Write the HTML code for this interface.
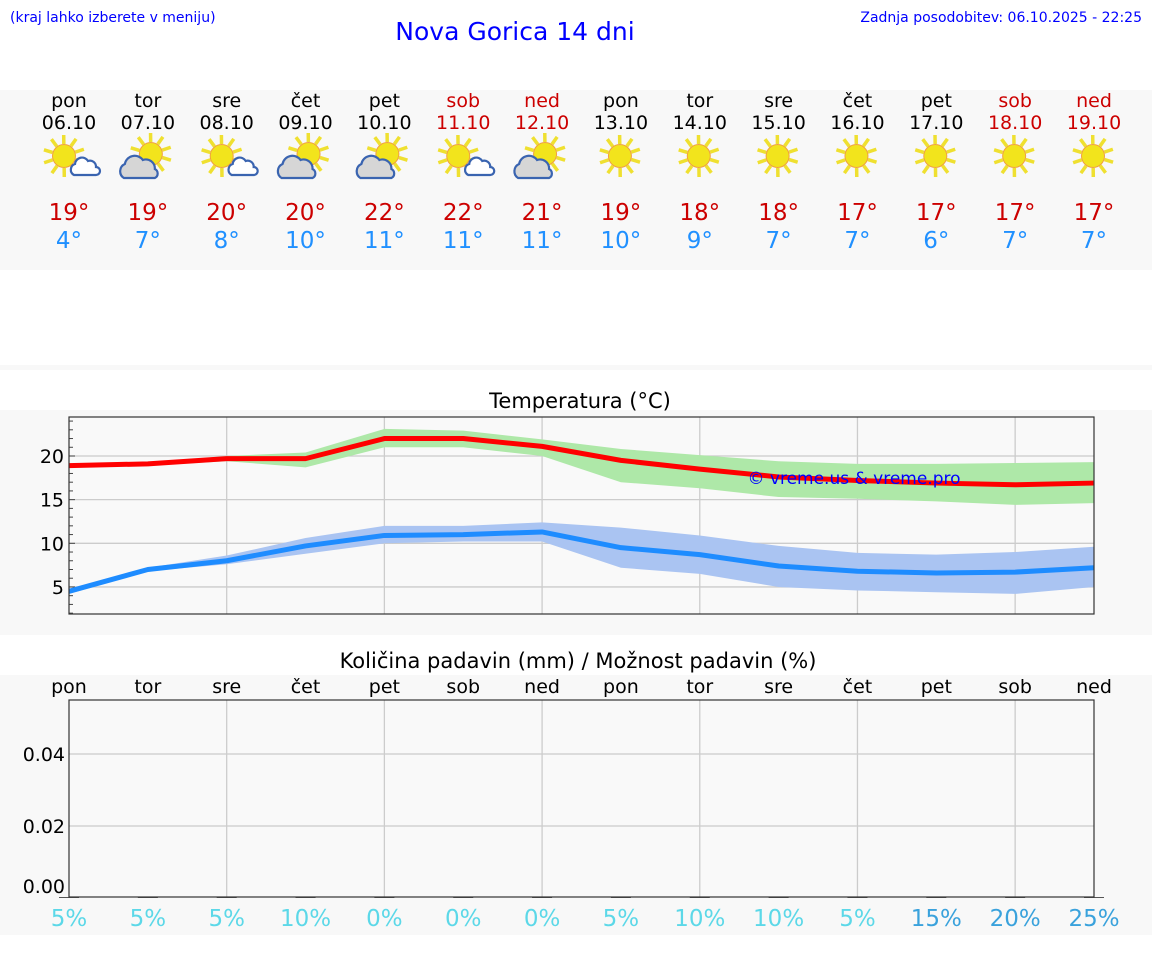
<!DOCTYPE html>
<html><head><meta charset="utf-8"><style>
body{margin:0;background:#fff;width:1152px;height:975px;overflow:hidden;font-family:"DejaVu Sans","Liberation Sans",sans-serif}
svg text{font-family:"DejaVu Sans","Liberation Sans",sans-serif}
</style></head><body>
<svg id="s" width="1152" height="975" xmlns="http://www.w3.org/2000/svg">
<rect x="0" y="90" width="1152" height="180" fill="#f8f8f8"/>
<rect x="0" y="365" width="1152" height="5" fill="#f8f8f8"/>
<rect x="0" y="410" width="1152" height="225" fill="#f8f8f8"/>
<rect x="0" y="675" width="1152" height="260" fill="#f8f8f8"/>
<text x="10" y="22" font-size="14" fill="#0000ff" font-family="Liberation Sans">(kraj lahko izberete v meniju)</text>
<text x="515" y="40" font-size="25" fill="#0000ff" text-anchor="middle" font-family="Liberation Sans">Nova Gorica 14 dni</text>
<text x="1142" y="22" font-size="14" fill="#0000ff" text-anchor="end" font-family="Liberation Sans">Zadnja posodobitev: 06.10.2025 - 22:25</text>
<text x="580" y="408" font-size="21" text-anchor="middle" fill="#000">Temperatura (°C)</text>
<text x="578" y="668" font-size="21" text-anchor="middle" fill="#000">Količina padavin (mm) / Možnost padavin (%)</text>
<g id="g"></g>
</svg>
<script>
const days=["pon","tor","sre","čet","pet","sob","ned","pon","tor","sre","čet","pet","sob","ned"];
const dates=["06.10","07.10","08.10","09.10","10.10","11.10","12.10","13.10","14.10","15.10","16.10","17.10","18.10","19.10"];
const weekend=[0,0,0,0,0,1,1,0,0,0,0,0,1,1];
const icons=["sc","c","sc","c","c","sc","c","s","s","s","s","s","s","s"];
const hiLabels=[19,19,20,20,22,22,21,19,18,18,17,17,17,17];
const loLabels=[4,7,8,10,11,11,11,10,9,7,7,6,7,7];
const tMax=[18.9,19.1,19.7,19.7,22.0,22.0,21.1,19.5,18.5,17.6,17.2,16.9,16.7,16.9];
const tMaxHi=[19.0,19.2,20.0,20.4,23.1,22.9,21.9,20.8,20.1,19.4,19.1,19.1,19.2,19.3];
const tMaxLo=[18.7,18.9,19.4,18.7,21.0,21.0,20.0,17.0,16.3,15.3,15.1,14.8,14.4,14.6];
const tMin=[4.5,7.0,8.0,9.7,10.9,11.0,11.3,9.5,8.7,7.4,6.8,6.6,6.7,7.2];
const tMinHi=[4.7,7.2,8.6,10.6,12.0,12.0,12.4,11.8,10.9,9.7,8.9,8.7,9.0,9.6];
const tMinLo=[4.2,6.8,7.6,8.8,10.0,10.2,10.2,7.2,6.5,5.0,4.6,4.4,4.2,5.0];
const tTicks=[5,10,15,20];
const precip=[0,0,0,0,0,0,0,0,0,0,0,0,0,0];
const chance=[5,5,5,10,0,0,0,5,10,10,5,15,20,25];
const pTicks=[0,0.02,0.04];
const pTickLabels=["0.00","0.02","0.04"];
const NS="http://www.w3.org/2000/svg",G=document.getElementById("g");
function mk(t,a,p){const e=document.createElementNS(NS,t);for(const k in a)e.setAttribute(k,a[k]);(p||G).appendChild(e);return e;}
const X0=69,X1=1094,xs=i=>X0+i*(X1-X0)/13;
const ty=v=>456-(v-20)*8.73;
const py=v=>898-v*3600;
days.forEach((d,i)=>{const c=weekend[i]?"#cc0000":"#000";
 let e=mk("text",{x:xs(i),y:107,"font-size":19,"text-anchor":"middle",fill:c});e.textContent=d;
 
 
 e=mk("text",{x:xs(i),y:129,"font-size":19,"text-anchor":"middle",fill:c});e.textContent=dates[i];
 
 
 const g=mk("g",{});
 
 
 const ic=icons[i];
 const sx=xs(i)+(ic=="s"?-1:(ic=="c"?3:-5)),sy=ic=="c"?154:156;
 for(let k=0;k<10;k++){const a=k*Math.PI/5+0.3;mk("line",{x1:sx+Math.cos(a)*12,y1:sy+Math.sin(a)*12,x2:sx+Math.cos(a)*21,y2:sy+Math.sin(a)*21,stroke:"#efe030","stroke-width":3.5},g);}
 mk("circle",{cx:sx,cy:sy,r:11.5,fill:"#f2e41c",stroke:"#f0a040","stroke-width":1},g);
 if(ic=="c"){const cx=xs(i)-8,cy=178;mk("path",{d:`M${cx-16} ${cy} a8 8 0 0 1 1-14 a10 10 0 0 1 18-4 a9 9 0 0 1 12 9 a5 5 0 0 1 0 9 z`,fill:"#d6d6d6",stroke:"#3a64b0","stroke-width":2.2},g);}
 if(ic=="sc"){const cx=xs(i)+10,cy=175;mk("path",{d:`M${cx-5} ${cy} a6 6 0 0 1 1-11 a7 7 0 0 1 13-3 a6 6 0 0 1 8 6 a4 4 0 0 1 0 8 z`,fill:"#fff",stroke:"#3a64b0","stroke-width":2.2},g);}
 e=mk("text",{x:xs(i),y:220,"font-size":23,"text-anchor":"middle",fill:"#cc0000"});e.textContent=hiLabels[i]+"°";
 
 
 e=mk("text",{x:xs(i),y:248,"font-size":23,"text-anchor":"middle",fill:"#2090ff"});e.textContent=loLabels[i]+"°";
 
 
});
const T0=417,T1=614;
mk("rect",{x:X0,y:T0,width:X1-X0,height:T1-T0,fill:"#f9f9f9"});
for(let i=2;i<13;i+=2)mk("line",{x1:xs(i),x2:xs(i),y1:T0,y2:T1,stroke:"#ccc","stroke-width":1.3});
tTicks.forEach(v=>{mk("line",{x1:X0,x2:X1,y1:ty(v),y2:ty(v),stroke:"#ccc","stroke-width":1.3});
 const e=mk("text",{x:X0-5,y:ty(v)+7,"font-size":19,"text-anchor":"end",fill:"#000"});e.textContent=v;
 
 });
for(let v=2;v<=24;v++)mk("line",{x1:X0,x2:X0+(v%5==0?6:4),y1:ty(v),y2:ty(v),stroke:"#444","stroke-width":1});
function band(hi,lo,col,name){let d="M"+hi.map((v,i)=>xs(i)+" "+ty(v)).join(" L");d+=" L"+lo.map((v,i)=>xs(i)+" "+ty(v)).reverse().join(" L")+"Z";
 const e=mk("path",{d:d,fill:col});}
function line(v,col,name){const e=mk("polyline",{points:v.map((t,i)=>xs(i)+","+ty(t)).join(" "),fill:"none",stroke:col,"stroke-width":5,"stroke-linejoin":"round"});}
band(tMaxHi,tMaxLo,"#aee8a8","max-temp-band");
band(tMinHi,tMinLo,"#aac4f2","min-temp-band");
line(tMax,"#ff0000","max-temp-line");
line(tMin,"#1e8cff","min-temp-line");
let w=mk("text",{x:854,y:484,"font-size":17,"text-anchor":"middle",fill:"#0000ff","font-family":"Liberation Sans"});w.textContent="© vreme.us & vreme.pro";


mk("rect",{x:X0,y:T0,width:X1-X0,height:T1-T0,fill:"none",stroke:"#333","stroke-width":1.2});
const P0=700,P1=897;
mk("rect",{x:X0,y:P0,width:X1-X0,height:P1-P0,fill:"#f9f9f9"});
for(let i=2;i<13;i+=2)mk("line",{x1:xs(i),x2:xs(i),y1:P0,y2:P1,stroke:"#ccc","stroke-width":1.3});
pTicks.forEach((v,k)=>{if(v>0)mk("line",{x1:X0,x2:X1,y1:py(v),y2:py(v),stroke:"#ccc","stroke-width":1.3});
 const e=mk("text",{x:X0-4,y:Math.min(py(v)+7,893),"font-size":19,"text-anchor":"end",fill:"#000"});e.textContent=pTickLabels[k];
 
 });
precip.forEach((v,i)=>{const e=mk("rect",{x:xs(i)-10,y:py(v)-1,width:20,height:Math.max(1,P1-py(v)),fill:"#555"});
 
 });
mk("rect",{x:X0,y:P0,width:X1-X0,height:P1-P0,fill:"none",stroke:"#333","stroke-width":1.2});
days.forEach((d,i)=>{let e=mk("text",{x:xs(i),y:693,"font-size":19,"text-anchor":"middle",fill:"#000"});e.textContent=d;
 
 
 e=mk("text",{x:xs(i),y:926,"font-size":23,"text-anchor":"middle",fill:chance[i]>=15?"#3aa2dc":"#5cd8e8"});e.textContent=chance[i]+"%";
 
 });
</script>
</body></html>
